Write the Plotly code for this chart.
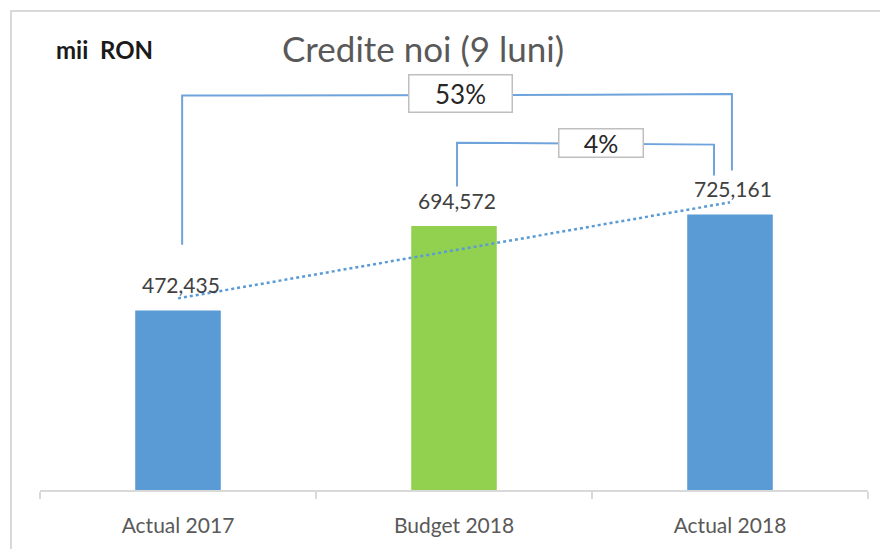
import numpy as np
import plotly.graph_objects as go

categories = ["Actual 2017", "Budget 2018", "Actual 2018"]
values = [472435, 694572, 725161]
bar_colors = ["#5B9BD5", "#92D050", "#5B9BD5"]
title_text = "Credite noi (9 luni)"
unit_text = "mii\u00a0 RON"

FONT = "Lato"
x_idx = np.arange(len(categories))

fig = go.Figure()
fig.add_trace(go.Bar(
    x=x_idx, y=values, width=0.31, marker=dict(color=bar_colors, line=dict(width=0)),
    hoverinfo="skip", showlegend=False))

# linear trendline over the series
slope, intercept = np.polyfit(x_idx, values, 1)
tx = np.array([0, 2])
fig.add_trace(go.Scatter(
    x=tx, y=slope * tx + intercept, mode="lines",
    line=dict(color="#5B9BD5", width=2.5, dash="dot"),
    hoverinfo="skip", showlegend=False))

ann = []
for i, v in enumerate(values):
    ann.append(dict(x=i, y=v, xref="x", yref="y", text=f"{v:,}", showarrow=False,
                    yanchor="middle", yshift=26, xshift=3,
                    font=dict(family=FONT, size=21, color="#404040")))

# growth brackets
pct_big = round((values[2] / values[0] - 1) * 100)
pct_small = round((values[2] / values[1] - 1) * 100)
bcol = "#6FA3DB"
shapes = []

def path(pts):
    d = "M " + " L ".join(f"{x},{y}" for x, y in pts)
    return dict(type="path", xref="x", yref="y", path=d,
                line=dict(color=bcol, width=2), layer="above")

# big bracket (Actual 2017 -> Actual 2018)
shapes.append(path([(0.015, 645800), (0.015, 1038000), (1.5, 1040000), (2.007, 1042000), (2.007, 841000)]))
# small bracket (Budget 2018 -> Actual 2018)
shapes.append(path([(1.011, 799000), (1.011, 914000), (1.942, 909000), (1.942, 828000)]))

ann.append(dict(x=1.022, y=1044000, xref="x", yref="y", text=f"{pct_big}%", showarrow=False,
                width=100, height=34, bgcolor="white", bordercolor="#BFBFBF", borderwidth=1.5, borderpad=1,
                font=dict(family=FONT, size=26, color="#262626")))
ann.append(dict(x=1.533, y=914500, xref="x", yref="y", text=f"{pct_small}%", showarrow=False,
                width=81, height=25, bgcolor="white", bordercolor="#BFBFBF", borderwidth=1.5, borderpad=1,
                font=dict(family=FONT, size=25, color="#262626")))

# title and unit
ann.append(dict(x=(423 - 40) / 828, y=(495 - 48) / 475, xref="paper", yref="paper", text=title_text,
                showarrow=False, xanchor="center", yanchor="middle",
                font=dict(family=FONT, size=35, color="#595959")))
ann.append(dict(x=(54 - 40) / 828, y=(495 - 50) / 475, xref="paper", yref="paper", text=unit_text,
                showarrow=False, xanchor="left", yanchor="middle",
                font=dict(family=FONT, size=24, color="#1A1A1A", weight="bold")))

# outer border
shapes.append(dict(type="rect", xref="paper", yref="paper",
                   x0=(11 - 40) / 828, x1=(890 - 40) / 828, y0=(495 - 560) / 475, y1=(495 - 11) / 475,
                   line=dict(color="#D9D9D9", width=2), fillcolor="rgba(0,0,0,0)", layer="below"))

fig.update_layout(
    width=880, height=549,
    margin=dict(l=40, r=12, t=20, b=54),
    paper_bgcolor="white", plot_bgcolor="white",
    bargap=0.69,
    annotations=ann, shapes=shapes,
    xaxis=dict(range=[-0.5, 2.5], tickvals=list(x_idx), ticktext=categories,
               ticks="outside", ticklen=16, tickcolor="rgba(0,0,0,0)",
               showline=True, linecolor="#D9D9D9", linewidth=1.5, showgrid=False, zeroline=False,
               tickfont=dict(family=FONT, size=21, color="#595959"),
               minor=dict(tick0=-0.5, dtick=1, ticks="outside", ticklen=7, tickcolor="#D9D9D9", tickwidth=1.5)),
    yaxis=dict(range=[0, 1237000], visible=False, showgrid=False, zeroline=False),
)

fig.write_html("out.html", config={"displayModeBar": False},
               post_script="document.body.style.margin='0';")
